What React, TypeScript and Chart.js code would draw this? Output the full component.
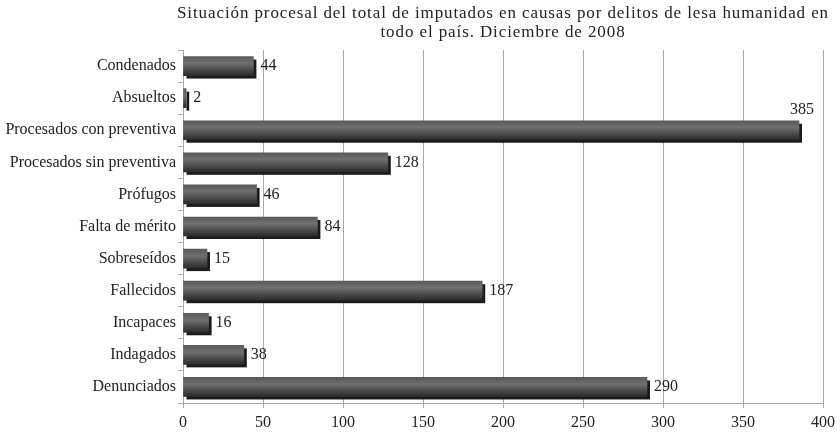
import React, { useEffect, useRef } from "react";
import { Chart, registerables } from "chart.js";

Chart.register(...registerables);

const titleLines = [
  "Situación procesal del total de imputados en causas por delitos de lesa humanidad en",
  "todo el país. Diciembre de 2008",
];
const categories = [
  "Condenados",
  "Absueltos",
  "Procesados con preventiva",
  "Procesados sin preventiva",
  "Prófugos",
  "Falta de mérito",
  "Sobreseídos",
  "Fallecidos",
  "Incapaces",
  "Indagados",
  "Denunciados",
];
const values = [44, 2, 385, 128, 46, 84, 15, 187, 16, 38, 290];
const xMin = 0;
const xMax = 400;
const xStep = 50;

const FONT = "'Liberation Serif', 'Times New Roman', serif";
const TEXT = "#222";
const GRID = "#a8a8a8";
const SHADOW = 3;

const shadowPlugin = {
  id: "barShadow",
  beforeDatasetsDraw(chart: any) {
    const ctx = chart.ctx;
    const meta = chart.getDatasetMeta(0);
    ctx.save();
    ctx.fillStyle = "#1b1b1b";
    meta.data.forEach((bar: any) => {
      const h = bar.height;
      const w = bar.x - bar.base;
      ctx.fillRect(bar.base + SHADOW, bar.y - h / 2 + SHADOW, w, h);
    });
    ctx.restore();
  },
};

const labelPlugin = {
  id: "barLabels",
  afterDatasetsDraw(chart: any) {
    const ctx = chart.ctx;
    const meta = chart.getDatasetMeta(0);
    const area = chart.chartArea;
    ctx.save();
    ctx.font = `16px ${FONT}`;
    ctx.fillStyle = TEXT;
    meta.data.forEach((bar: any, i: number) => {
      const txt = String(values[i]);
      const w = ctx.measureText(txt).width;
      const x = bar.x + SHADOW + 4;
      if (x + w > area.right) {
        ctx.textAlign = "right";
        ctx.textBaseline = "bottom";
        ctx.fillText(txt, bar.x + 15, bar.y - bar.height / 2 - 3);
      } else {
        ctx.textAlign = "left";
        ctx.textBaseline = "middle";
        ctx.fillText(txt, x, bar.y);
      }
    });
    ctx.restore();
  },
};

const titlePlugin = {
  id: "centerTitle",
  afterDraw(chart: any) {
    const ctx = chart.ctx;
    const area = chart.chartArea;
    const cx = (area.left + area.right) / 2;
    ctx.save();
    ctx.font = `17px ${FONT}`;
    (ctx as any).letterSpacing = "0.9px";
    ctx.fillStyle = TEXT;
    ctx.textAlign = "center";
    ctx.textBaseline = "middle";
    titleLines.forEach((line, i) => ctx.fillText(line, cx, 14 + i * 19));
    ctx.restore();
  },
};

export default function App() {
  const ref = useRef<HTMLCanvasElement | null>(null);
  useEffect(() => {
    if (!ref.current) return;
    const chart = new Chart(ref.current, {
      type: "bar",
      data: {
        labels: categories,
        datasets: [
          {
            data: values,
            barThickness: 19,
            borderWidth: 0,
            backgroundColor: (c: any) => {
              const ch = c.chart;
              const ys = ch.scales?.y;
              if (!ys || c.dataIndex === undefined) return "#555";
              const yc = ys.getPixelForValue(c.dataIndex);
              if (!isFinite(yc)) return "#555";
              const g = ch.ctx.createLinearGradient(0, yc - 9.5, 0, yc + 9.5);
              g.addColorStop(0, "#5a5a5a");
              g.addColorStop(0.35, "#707070");
              g.addColorStop(0.7, "#4a4a4a");
              g.addColorStop(1, "#2c2c2c");
              return g;
            },
          },
        ],
      },
      options: {
        indexAxis: "y",
        responsive: false,
        animation: false,
        layout: { padding: { top: 50, right: 15, bottom: 0, left: 0 } },
        plugins: {
          legend: { display: false },
          tooltip: { enabled: false },
          title: { display: false },
        },
        scales: {
          x: {
            min: xMin,
            max: xMax,
            afterFit: (s: any) => {
              s.height = 30;
            },
            ticks: {
              stepSize: xStep,
              color: TEXT,
              font: { family: FONT, size: 16 },
              padding: 5,
            },
            grid: { color: GRID, tickLength: 5, lineWidth: 1 },
            border: { color: GRID },
          },
          y: {
            afterFit: (s: any) => {
              s.width = 183;
            },
            ticks: {
              color: TEXT,
              font: { family: FONT, size: 16 },
              padding: 2,
            },
            grid: { drawOnChartArea: false, tickLength: 5, color: GRID },
            border: { color: GRID },
          },
        },
      },
      plugins: [shadowPlugin, labelPlugin, titlePlugin],
    } as any);
    return () => chart.destroy();
  }, []);
  return (
    <div style={{ position: "absolute", left: 0, top: 0, width: 840, height: 433, background: "#fff" }}>
      <canvas ref={ref} width={840} height={433} style={{ display: "block" }} />
    </div>
  );
}
